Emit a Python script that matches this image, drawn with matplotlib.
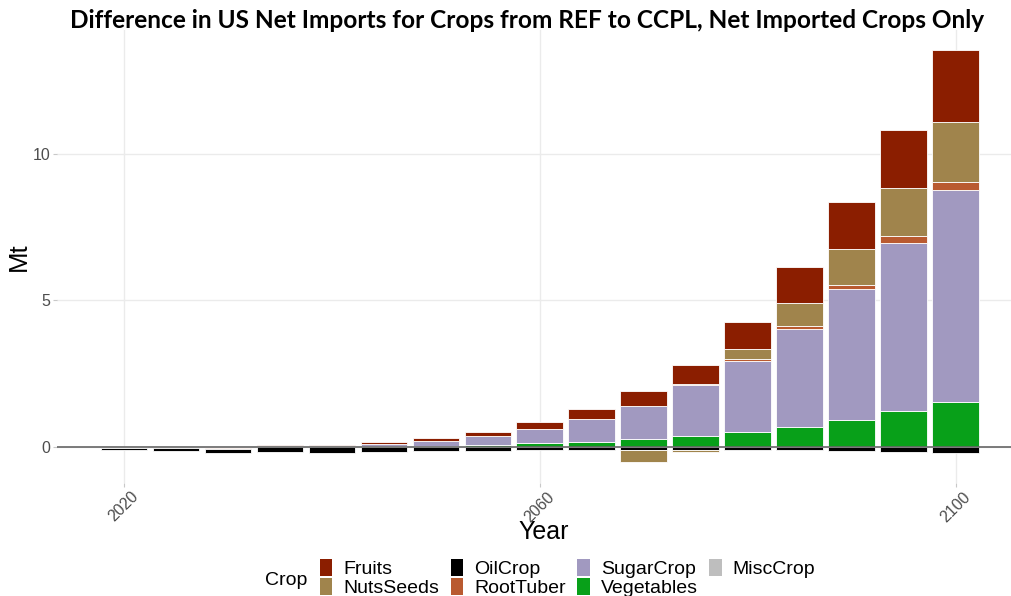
import matplotlib
matplotlib.use("Agg")
import matplotlib.pyplot as plt
from matplotlib.patches import Patch
import numpy as np

years = [2020, 2025, 2030, 2035, 2040, 2045, 2050, 2055, 2060,
         2065, 2070, 2075, 2080, 2085, 2090, 2095, 2100]

# Mt, difference REF -> CCPL
fruits = [0.0, 0.0, 0.0, 0.04, 0.04, 0.07, 0.10, 0.14, 0.24,
          0.34, 0.50, 0.64, 0.93, 1.23, 1.59, 1.99, 2.43]
nuts_seeds = [0.0, 0.0, 0.0, 0.0, 0.0, 0.0, 0.0, 0.0, 0.0,
              0.0, -0.43, -0.08, 0.34, 0.78, 1.21, 1.63, 2.05]
oil_crop = [-0.07, -0.10, -0.11, -0.19, -0.18, -0.17, -0.15, -0.13, -0.12,
            -0.10, -0.10, -0.10, -0.10, -0.11, -0.14, -0.17, -0.23]
root_tuber = [0.0, -0.05, -0.03, 0.0, -0.02, 0.0, 0.0, 0.0, 0.0,
              0.0, 0.0, 0.03, 0.06, 0.11, 0.16, 0.23, 0.28]
sugar_crop = [-0.05, 0.0, -0.06, 0.02, 0.02, 0.06, 0.18, 0.31, 0.48,
              0.77, 1.15, 1.76, 2.45, 3.34, 4.46, 5.74, 7.22]
vegetables = [0.0, 0.0, 0.0, 0.0, 0.0, 0.02, 0.03, 0.06, 0.12,
              0.17, 0.25, 0.35, 0.49, 0.68, 0.91, 1.22, 1.54]
misc_crop = [0.0] * len(years)

crops = ["Fruits", "NutsSeeds", "OilCrop", "RootTuber",
         "SugarCrop", "Vegetables", "MiscCrop"]
values = [fruits, nuts_seeds, oil_crop, root_tuber,
          sugar_crop, vegetables, misc_crop]
colors = ["#8b1e00", "#a0844c", "#000000", "#b95a30",
          "#a199c0", "#08a019", "#bebebe"]

fig = plt.figure(figsize=(10.12, 5.96), dpi=100)
ax = fig.add_axes([0.0563, 0.19, 0.9437, 0.76])

x = np.array(years, dtype=float)
pos = np.zeros(len(years))
neg = np.zeros(len(years))
# stack like ggplot: last level sits next to zero
for name, vals, col in reversed(list(zip(crops, values, colors))):
    v = np.array(vals)
    base = np.where(v >= 0, pos, neg)
    ax.bar(x, v, bottom=base, width=4.5, color=col,
           edgecolor="white", linewidth=0.6, zorder=2)
    pos += np.where(v >= 0, v, 0)
    neg += np.where(v < 0, v, 0)

ax.axhline(0, color="#666666", linewidth=1.2, zorder=3)

ax.set_xlim(2013.56, 2105.4)
ax.set_ylim(-1.23, 14.22)
ax.set_xticks([2020, 2060, 2100])
ax.set_yticks([0, 5, 10])
ax.grid(True, color="#ebebeb", linewidth=1.0, zorder=0)
ax.set_axisbelow(True)
for s in ax.spines.values():
    s.set_visible(False)

ax.tick_params(axis="both", colors="#c8c8c8", length=3, width=0.8, pad=1.5,
               labelcolor="#4d4d4d", labelsize=11.5)
for lab in ax.get_yticklabels():
    lab.set_family("Liberation Sans")
for lab in ax.get_xticklabels():
    lab.set_family("Liberation Sans")
    lab.set_rotation(45)
    lab.set_ha("center")
    lab.set_va("top")

ax.set_ylabel("Mt", family="Liberation Sans", fontsize=18.5)
ax.yaxis.set_label_coords(-0.027, 0.5)
ax.set_xlabel("Year", family="Liberation Sans", fontsize=18)
ax.xaxis.set_label_coords(0.51, -0.083)

fig.text(0.521, 0.966,
         "Difference in US Net Imports for Crops from REF to CCPL, Net Imported Crops Only",
         family="Lato", fontweight="bold", fontsize=17.6, ha="center", va="center")

handles = [Patch(facecolor=c, edgecolor="none") for c in colors]
fig.text(0.262, 0.026, "Crop", family="Liberation Sans", fontsize=14, va="center")
fig.legend(handles, crops, ncol=4, loc="upper left", bbox_to_anchor=(0.316, 0.062),
           frameon=False, prop={"family": "Liberation Sans", "size": 14},
           handlelength=0.65, handleheight=0.95, handletextpad=0.55,
           columnspacing=0.6, labelspacing=0.0, borderaxespad=0, borderpad=0)

fig.savefig("out.png", dpi=100)
